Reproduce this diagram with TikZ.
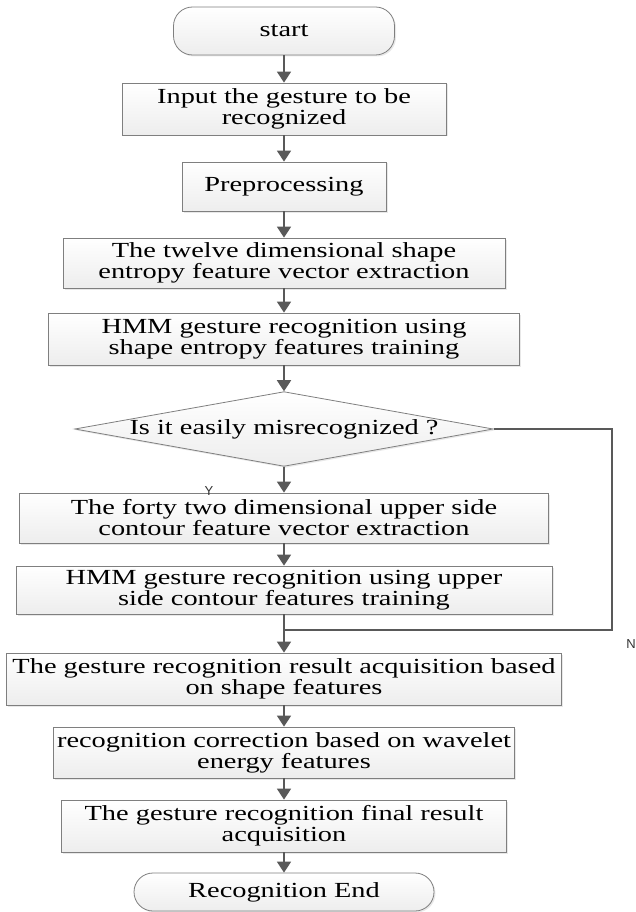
\documentclass[tikz,border=0pt]{standalone}
\usepackage{fontspec}
\setmainfont{Liberation Serif}[FakeStretch=1.32]
\newfontfamily\lblfont{Liberation Sans}
\usetikzlibrary{arrows.meta,shapes.geometric,shadows}
\definecolor{arrowgray}{HTML}{595959}
\definecolor{edgegray}{HTML}{7F7F7F}

\begin{document}
\begin{tikzpicture}[x=1pt, y=-1pt,
		box/.style = {rectangle, draw=edgegray, line width=0.8pt, top color=white, bottom color=black!7,
			drop shadow={shadow xshift=1.5pt, shadow yshift=-1.5pt, fill=black!18},
			inner sep=0pt, align=center, font=\fontsize{21.5}{21}\selectfont},
		term/.style = {box, rounded corners=19pt},
		dec/.style = {box, diamond, aspect=5.6, rounded corners=0pt},
		r/.style = {-{Triangle[width=14pt, length=11pt]}, draw=arrowgray, fill=arrowgray, line width=1.8pt},
		ln/.style = {draw=arrowgray, line width=1.8pt},
		lab/.style = {font=\lblfont\fontsize{13}{13}\selectfont, text=black!80, inner sep=0pt}
		]
		\useasboundingbox (0,0) rectangle (635,912);
		
		%Nodes
		\node[term, minimum width=221, minimum height=48]	(start)	at	(284,31)	{start};
		\node[box, minimum width=324, minimum height=52]	(input)	at	(284,109)	{Input the gesture to be\\recognized};
		\node[box, minimum width=204, minimum height=49]	(pre)	at	(284,186.5)	{Preprocessing};
		\node[box, minimum width=442, minimum height=50]	(twelve)	at	(284,263)	{The twelve dimensional shape\\entropy feature vector extraction};
		\node[box, minimum width=471, minimum height=52]	(hmma)	at	(284,339)	{HMM gesture recognition using\\shape entropy features training};
		\node[dec, minimum width=414, minimum height=74]	(misrec)	at	(284,429)	{Is it easily misrecognized ?};
		\node[box, minimum width=529, minimum height=50]	(forty)	at	(284,518)	{The forty two dimensional upper side\\contour feature vector extraction};
		\node[box, minimum width=536, minimum height=48]	(hmmb)	at	(284,590)	{HMM gesture recognition using upper\\side contour features training};
		\node[box, minimum width=555, minimum height=52]	(result)	at	(284,679)	{The gesture recognition result acquisition based\\on shape features};
		\node[box, minimum width=461, minimum height=51]	(corr)	at	(284,752.5)	{recognition correction based on wavelet\\energy features};
		\node[box, minimum width=445, minimum height=52]	(final)	at	(284,826)	{The gesture recognition final result\\acquisition};
		\node[term, minimum width=300, minimum height=38]	(stop)	at	(284,892)	{Recognition End};
		\coordinate	(nturn)	at	(612,630);
		\node[lab]	(ylab)	at	(209,491)	{Y};
		\node[lab]	(nlab)	at	(631,644)	{N};
		
		%Lines
		\draw[r]	(start)	--	(input);
		\draw[r]	(input)	--	(pre);
		\draw[r]	(pre)	--	(twelve);
		\draw[r]	(twelve)	--	(hmma);
		\draw[r]	(hmma)	--	(misrec);
		\draw[r]	(misrec)	--	(forty);
		\draw[r]	(forty)	--	(hmmb);
		\draw[r]	(hmmb)	--	(result);
		\draw[ln]	(misrec.east)	-|	(nturn)	--	(nturn -| hmmb.south);
		\draw[r]	(result)	--	(corr);
		\draw[r]	(corr)	--	(final);
		\draw[r]	(final)	--	(stop);
	\end{tikzpicture}
\end{document}
